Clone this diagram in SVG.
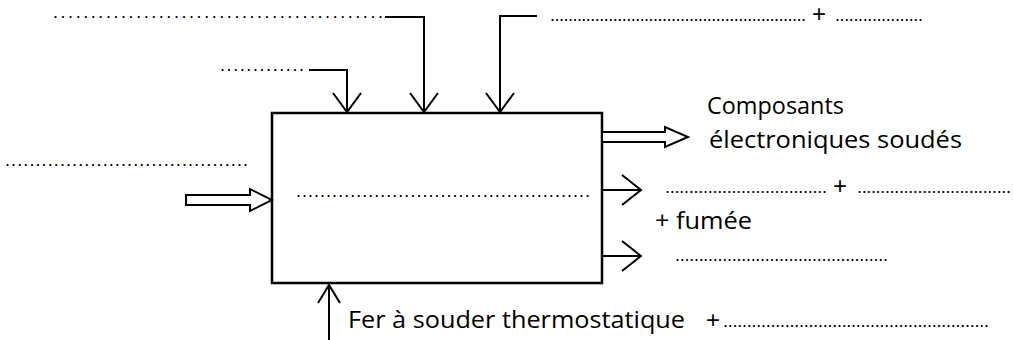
<svg xmlns="http://www.w3.org/2000/svg" width="1013" height="340" viewBox="0 0 1013 340">
<style>
text{font-family:"Open Sans","Liberation Sans",sans-serif;font-size:24px;fill:#000}
.dots{font-family:"Liberation Sans",sans-serif;font-size:18px}
.plus{font-family:"Liberation Sans",sans-serif;font-size:24px}
.ln{fill:none;stroke:#000;stroke-width:2}
.box{fill:#fff;stroke:#000;stroke-width:2.5}
.hollow{fill:#fff;stroke:#000;stroke-width:2;stroke-linejoin:miter}
</style>
<rect width="1013" height="340" fill="#fff"/>
<g id="process">
<rect class="box" x="272" y="113" width="330" height="170"/>
<text class="dots" x="296" y="197" textLength="294" lengthAdjust="spacing">.................................................</text>
</g>
<g id="connectors">
<path class="ln" d="M309,70 H347 V112 M333,93 L347,112 L361,93"/>
<path class="ln" d="M385,17 H424 V112 M410,93 L424,112 L438,93"/>
<path class="ln" d="M537,16 H500 V112 M486,93 L500,112 L514,93"/>
<polygon class="hollow" points="186,195 250,195 250,189 272,200 250,211 250,205 186,205"/>
<polygon class="hollow" points="602,132 665,132 665,127 688,137 665,147 665,142 602,142"/>
<path class="ln" d="M602,190 H641 M622,175 L641,190 L622,205"/>
<path class="ln" d="M602,256 H641 M622,241 L641,256 L622,271"/>
<path class="ln" d="M329,340 V285 M318,303 L329,285 L340,303"/>
</g>
<g id="label-top-left">
<text class="dots" x="53" y="18" textLength="330" lengthAdjust="spacing">............................................</text>
</g>
<g id="label-top-small">
<text class="dots" x="220" y="71" textLength="84" lengthAdjust="spacing">.............</text>
</g>
<g id="label-top-right">
<text class="dots" x="550" y="21" textLength="256" lengthAdjust="spacing">.........................................................</text>
<text class="plus" x="812" y="22">+</text>
<text class="dots" x="835" y="21" textLength="88" lengthAdjust="spacing">...................</text>
</g>
<g id="label-left">
<text class="dots" x="5" y="166" textLength="243" lengthAdjust="spacing">........................................</text>
</g>
<g id="label-output-main">
<text x="707" y="114" textLength="137" lengthAdjust="spacingAndGlyphs">Composants</text>
<text x="709" y="148" textLength="253" lengthAdjust="spacingAndGlyphs">électroniques soudés</text>
</g>
<g id="label-output-2">
<text class="dots" x="665" y="193" textLength="162" lengthAdjust="spacing">..................................</text>
<text class="plus" x="833" y="194">+</text>
<text class="dots" x="857" y="193" textLength="154" lengthAdjust="spacing">.................................</text>
<text x="655" y="229" textLength="97" lengthAdjust="spacingAndGlyphs">+ fumée</text>
</g>
<g id="label-output-3">
<text class="dots" x="675" y="261" textLength="213" lengthAdjust="spacing">.............................................</text>
</g>
<g id="label-bottom">
<text x="348" y="328" textLength="337" lengthAdjust="spacingAndGlyphs">Fer à souder thermostatique</text>
<text class="plus" x="706" y="328">+</text>
<text class="dots" x="723" y="327" textLength="266" lengthAdjust="spacing">........................................................</text>
</g>
</svg>
